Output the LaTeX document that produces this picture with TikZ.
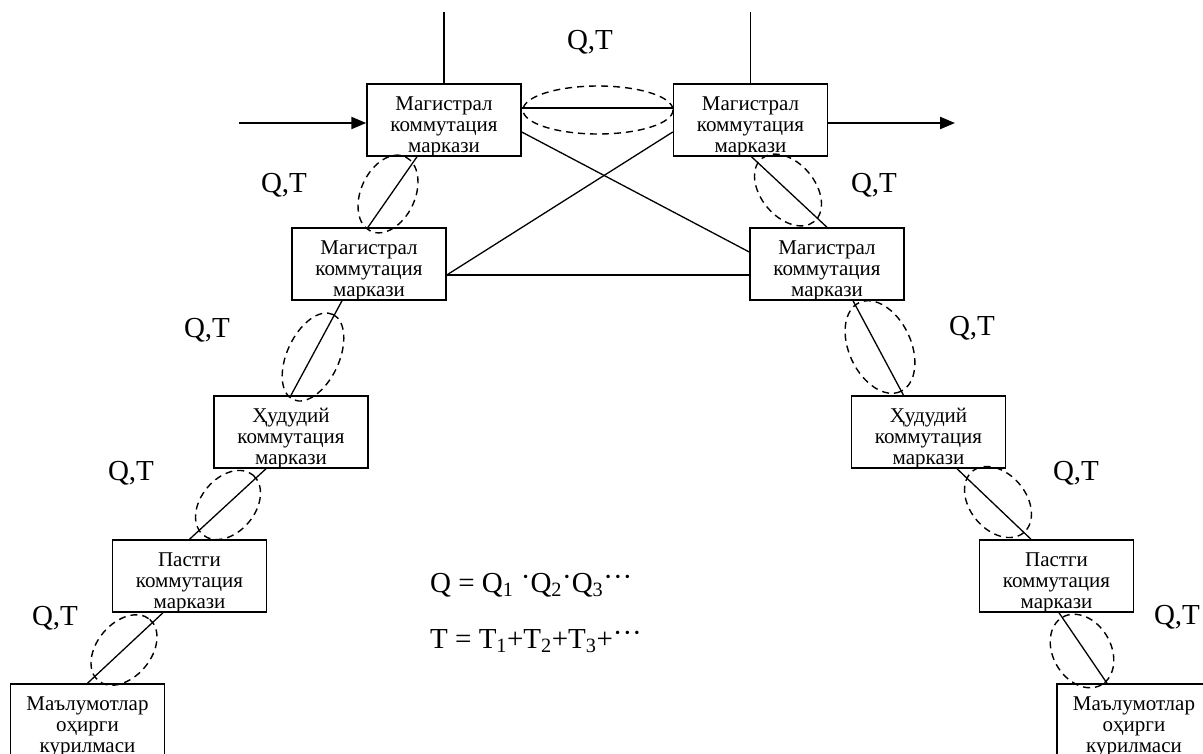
\documentclass[tikz,border=0pt]{standalone}
\usepackage{fontspec}
\setmainfont{Liberation Serif}
\usepackage{tikz}
\usetikzlibrary{arrows.meta}

\newcommand{\mdot}[1]{\raisebox{6pt}{#1}}

\begin{document}
\begin{tikzpicture}[x=1pt,y=-1pt]
\useasboundingbox (0,0) rectangle (1203,753);
\begin{scope}[every node/.style={rectangle,draw,line width=1.5pt,minimum width=154pt,minimum height=72pt,inner sep=0pt,align=center,text height=64pt,text depth=0pt,font=\fontsize{21}{21}\selectfont}]
\node (MK-1) at (444,120) {Магистрал\\коммутация\\маркази};
\node (MK-2) at (750.5,120) {Магистрал\\коммутация\\маркази};
\node (MK-3) at (369,264) {Магистрал\\коммутация\\маркази};
\node (MK-4) at (827,264) {Магистрал\\коммутация\\маркази};
\node (HK-1) at (291,432) {Ҳудудий\\коммутация\\маркази};
\node (HK-2) at (928.5,432) {Ҳудудий\\коммутация\\маркази};
\node (PK-1) at (189.5,576) {Пастги\\коммутация\\маркази};
\node (PK-2) at (1056.5,576) {Пастги\\коммутация\\маркази};
\node (MQ-1) at (87.5,720) {Маълумотлар\\оҳирги\\курилмаси};
\node (MQ-2) at (1134,720) {Маълумотлар\\оҳирги\\курилмаси};
\end{scope}
\coordinate (TOP-1) at (444,12);
\coordinate (TOP-2) at (750.5,12);
\coordinate (IN-1) at (239,123);
\coordinate (OUT-2) at (955,123);
\begin{scope}[every node/.style={inner sep=0pt,font=\fontsize{29}{29}\selectfont}]
\node (QT-0) at (590,42) {Q,T};
\node (QT-1) at (284,185) {Q,T};
\node (QT-2) at (874,185) {Q,T};
\node (QT-3) at (207,330) {Q,T};
\node (QT-4) at (972,328) {Q,T};
\node (QT-5) at (131,473) {Q,T};
\node (QT-6) at (1076,473) {Q,T};
\node (QT-7) at (55,618) {Q,T};
\node (QT-8) at (1177,617) {Q,T};
\node[anchor=base west] (FQ) at (430,592) {Q = Q\textsubscript{1} \mdot{·}Q\textsubscript{2}\mdot{·}Q\textsubscript{3}\mdot{···}};
\node[anchor=base west] (FT) at (430,648) {T = T\textsubscript{1}+T\textsubscript{2}+T\textsubscript{3}+\mdot{···}};
\end{scope}
\begin{scope}[every edge/.style={draw=black,line width=1.3pt}]
\path [-] (MK-1.north)edge (TOP-1);
\path [-] (MK-2.north)edge (TOP-2);
\path [-] ([yshift=12pt]MK-1.east)edge ([yshift=12pt]MK-2.west);
\path [-] ([yshift=-12pt]MK-1.east)edge ([yshift=12pt]MK-4.west);
\path [-] ([yshift=-12pt]MK-2.west)edge ([yshift=-11pt]MK-3.east);
\path [-] ([yshift=-11pt]MK-3.east)edge ([yshift=-11pt]MK-4.west);
\path [-] ([xshift=-27pt]MK-1.south)edge ([xshift=-1pt]MK-3.north);
\path [-] ([xshift=1pt]MK-2.south)edge (MK-4.north);
\path [-] ([xshift=-27pt]MK-3.south)edge (HK-1.north);
\path [-] ([xshift=26pt]MK-4.south)edge ([xshift=-25pt]HK-2.north);
\path [-] ([xshift=-25pt]HK-1.south)edge (PK-1.north);
\path [-] ([xshift=28.5pt]HK-2.south)edge ([xshift=-25.5pt]PK-2.north);
\path [-] ([xshift=-26.5pt]PK-1.south)edge (MQ-1.north);
\path [-] ([xshift=2.5pt]PK-2.south)edge ([xshift=-27pt]MQ-2.north);
\end{scope}
\begin{scope}[line width=2.2pt,-{Triangle[length=15pt,width=12pt]}]
\draw (IN-1) -- ([yshift=-3pt]MK-1.west);
\draw ([yshift=-3pt]MK-2.east) -- (OUT-2);
\end{scope}
% dashed rings round the links
\begin{scope}[line width=1.4pt,dash pattern=on 7pt off 5pt]
\draw (598,110) ellipse (75 and 24);
\draw[rotate around={65:(388,194)}] (388,194) ellipse (41 and 27);
\draw[rotate around={-50:(788,190)}] (788,190) ellipse (41 and 27);
\draw[rotate around={65:(313,357)}] (313,357) ellipse (47 and 26);
\draw[rotate around={-65:(880,347)}] (880,347) ellipse (49 and 31);
\draw[rotate around={50:(228,505)}] (228,505) ellipse (39 and 27);
\draw[rotate around={-50:(998,502)}] (998,502) ellipse (40 and 28);
\draw[rotate around={50:(124,650)}] (124,650) ellipse (40 and 27);
\draw[rotate around={-60:(1082,651)}] (1082,651) ellipse (39 and 29);
\end{scope}
\end{tikzpicture}
\end{document}
